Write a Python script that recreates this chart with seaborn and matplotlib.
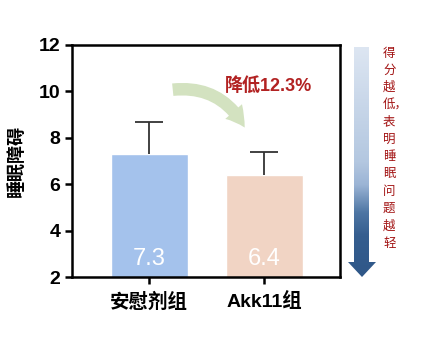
import numpy as np
import pandas as pd
import matplotlib
matplotlib.use("Agg")
import matplotlib.pyplot as plt
import seaborn as sns
from matplotlib.patches import FancyArrowPatch, Polygon

groups = ["安慰剂组", "Akk11组"]
means = [7.3, 6.4]
errs = [1.4, 1.0]
bar_labels = ["7.3", "6.4"]
yticks = [2, 4, 6, 8, 10, 12]
ylabel = "睡眠障碍"
change_text = "降低12.3%"
side_text = ["得", "分", "越", "低，", "表", "明", "睡", "眠", "问", "题", "越", "轻"]

sns.set_theme(style="white")
plt.rcParams['font.family'] = ['Noto Sans CJK SC', 'DejaVu Sans']
plt.rcParams['text.color'] = 'black'
plt.rcParams['axes.labelcolor'] = 'black'
plt.rcParams['xtick.color'] = 'black'
plt.rcParams['ytick.color'] = 'black'

fig = plt.figure(figsize=(4.28, 3.41), dpi=100)
W, H = 428, 341
ax = fig.add_axes([72 / W, 1 - 277 / H, (340 - 72) / W, (277 - 45) / H])

df = pd.DataFrame({"group": groups, "mean": means})
sns.barplot(data=df, x="group", y="mean", hue="group",
            palette=["#a4c2ec", "#f1d4c4"], width=0.67, ax=ax, legend=False,
            errorbar=None, saturation=1)
xs = np.arange(len(means))
tops = np.array(means) + np.array(errs)
ax.vlines(xs, means, tops, color="#333333", lw=1.3, zorder=3)
ax.hlines(tops, xs - 0.12, xs + 0.12, color="#333333", lw=1.3, zorder=3)

for i, (m, t) in enumerate(zip(means, bar_labels)):
    ax.text(i, 2.3, t, ha="center", va="bottom", color="white", fontsize=17,
            family=["Liberation Sans"])

ax.set_ylim(2, 12)
ax.set_xlim(-0.67, 1.66)
ax.set_yticks(yticks)
ax.set_yticklabels([str(v) for v in yticks], fontsize=14, fontweight="bold",
                   family=["Liberation Sans"])
ax.set_xlabel("")
ax.set_ylabel(ylabel, fontsize=13, fontweight="bold", labelpad=9)
ax.tick_params(axis="both", direction="out", length=5, width=1.8, color="black",
               left=True, bottom=True)
ax.tick_params(axis="x", labelsize=14, pad=6)
for lab in ax.get_xticklabels():
    lab.set_fontweight("bold")
    lab.set_family(["Liberation Sans", "Noto Sans CJK SC"])
for s in ax.spines.values():
    s.set_linewidth(1.8)
    s.set_color("black")

# curved green arrow
arr = FancyArrowPatch((170 / W, 1 - 90 / H), (246 / W, 1 - 130 / H),
                      transform=fig.transFigure,
                      connectionstyle="arc3,rad=-0.35",
                      arrowstyle="simple,head_width=16,head_length=14,tail_width=9",
                      color="#d3e2c0", lw=0)
fig.patches.append(arr)

fig.text(268 / W, 1 - 86 / H, change_text, ha="center", va="center",
         color="#b22222", fontsize=13, fontweight="bold",
         family=["Liberation Sans", "Noto Sans CJK SC"])

# gradient arrow on the right
poly_pts = [(354, 47), (369, 47), (369, 262), (376, 262), (362, 277), (348, 262), (354, 262)]
grad = np.linspace(0, 1, 256).reshape(-1, 1)
cmap = matplotlib.colors.LinearSegmentedColormap.from_list(
    "g", [(0, "#dde6f2"), (0.5, "#b3c7e0"), (0.6, "#9bb4d5"), (0.72, "#4e76a4"),
          (0.82, "#355e8f"), (1, "#2f5788")])
gax = fig.add_axes([0, 0, 1, 1], facecolor="none")
gax.set_axis_off()
gax.set_xlim(0, W)
gax.set_ylim(H, 0)
im = gax.imshow(grad, cmap=cmap, extent=(348, 376, 277, 47), aspect="auto")
poly2 = Polygon(poly_pts, closed=True, transform=gax.transData, facecolor="none", edgecolor="none")
gax.add_patch(poly2)
im.set_clip_path(poly2)

ys = np.linspace(53, 243, len(side_text))
for ch, y in zip(side_text, ys):
    gax.text(383, y, ch, ha="left", va="center", color="#a31515", fontsize=9)

fig.savefig("out.png", dpi=100)
